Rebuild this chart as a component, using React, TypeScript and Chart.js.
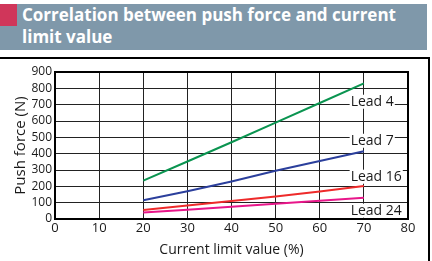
import React, { useEffect, useRef } from 'react';
import { Chart, registerables } from 'chart.js';
Chart.register(...registerables);

const currentPct = [20, 30, 40, 50, 60, 70];
const lead4 = [235, 352, 470, 590, 710, 830];
const lead7 = [115, 170, 230, 295, 355, 415];
const lead16 = [55, 82, 110, 138, 168, 202];
const lead24 = [40, 57, 75, 93, 111, 130];
const seriesNames = ['Lead 4', 'Lead 7', 'Lead 16', 'Lead 24'];
const seriesValues = [lead4, lead7, lead16, lead24];
const seriesColors = ['#0a9450', '#2b3f9c', '#ee2a2a', '#e8168a'];
const labelX = [67, 67, 67, 67];
const labelY = [718, 479, 259, 51];
const titleText = 'Correlation between push force and current limit value';
const xTitle = 'Current limit value (%)';
const yTitle = 'Push force (N)';

const FONT = "'Open Sans', 'Noto Sans', sans-serif";

const labelPlugin = {
  id: 'leadLabels',
  afterDatasetsDraw(chart: any) {
    const { ctx, chartArea, scales } = chart;
    ctx.save();
    ctx.strokeStyle = '#000';
    ctx.lineWidth = 2;
    ctx.strokeRect(chartArea.left, chartArea.top, chartArea.right - chartArea.left, chartArea.bottom - chartArea.top);
    ctx.font = `14px ${FONT}`;
    ctx.textBaseline = 'middle';
    ctx.textAlign = 'left';
    seriesNames.forEach((name, i) => {
      const x = scales.x.getPixelForValue(labelX[i]);
      const y = scales.y.getPixelForValue(labelY[i]);
      const w = ctx.measureText(name).width;
      ctx.fillStyle = '#fff';
      ctx.fillRect(x - 1, y - 7, w + 2, 14);
      ctx.fillStyle = '#1a1a1a';
      ctx.fillText(name, x, y);
    });
    ctx.restore();
  },
};

export default function App() {
  const ref = useRef<HTMLCanvasElement>(null);
  useEffect(() => {
    document.body.style.margin = '0';
    const chart = new Chart(ref.current!, {
      type: 'line',
      data: {
        datasets: seriesNames.map((name, i) => ({
          label: name,
          data: currentPct.map((x, j) => ({ x, y: seriesValues[i][j] })),
          borderColor: seriesColors[i],
          backgroundColor: seriesColors[i],
          borderWidth: 2,
          pointRadius: 0,
          tension: 0,
        })),
      },
      options: {
        responsive: false,
        animation: false,
        layout: { padding: { left: 0, right: 12, top: 12, bottom: 0 } },
        plugins: { legend: { display: false }, tooltip: { enabled: false } },
        scales: {
          x: {
            type: 'linear',
            min: 0,
            max: 80,
            ticks: { stepSize: 10, autoSkip: false, color: '#1a1a1a', font: { family: FONT, size: 13 }, padding: 1, maxRotation: 0 },
            grid: { color: '#222', lineWidth: 1, drawTicks: false },
            border: { color: '#000', width: 2 },
            title: { display: true, text: xTitle, color: '#1a1a1a', font: { family: FONT, size: 14 }, padding: { top: 2, bottom: 3 } },
            afterFit(scale: any) { scale.height = 42; },
          },
          y: {
            type: 'linear',
            min: 0,
            max: 900,
            ticks: { stepSize: 100, autoSkip: false, color: '#1a1a1a', font: { family: FONT, size: 12 }, padding: 3 },
            grid: { color: '#222', lineWidth: 1, drawTicks: false },
            border: { color: '#000', width: 2 },
            title: { display: true, text: yTitle, color: '#1a1a1a', font: { family: FONT, size: 15 }, padding: { top: 12, bottom: 2 } },
            afterFit(scale: any) { scale.width = 55; },
          },
        },
      },
      plugins: [labelPlugin],
    });
    return () => chart.destroy();
  }, []);

  return (
    <div style={{ position: 'relative', width: 432, height: 261, overflow: 'hidden', background: '#fff' }}>
      <div style={{ position: 'absolute', left: 0, top: 4, width: 427, height: 46, background: '#7f98aa' }} />
      <div style={{ position: 'absolute', left: 0, top: 4, width: 17, height: 22, background: '#d0365a' }} />
      <div style={{ position: 'absolute', left: 22, top: 4, width: 400, color: '#fff', fontFamily: FONT, fontWeight: 700, fontSize: 17, lineHeight: '22px' }}>
        {titleText}
      </div>
      <div style={{ position: 'absolute', left: -2, top: 57, width: 428, height: 220, border: '2px solid #000' }} />
      <canvas ref={ref} width={420} height={201} style={{ position: 'absolute', left: 0, top: 60, width: 420, height: 201 }} />
    </div>
  );
}
